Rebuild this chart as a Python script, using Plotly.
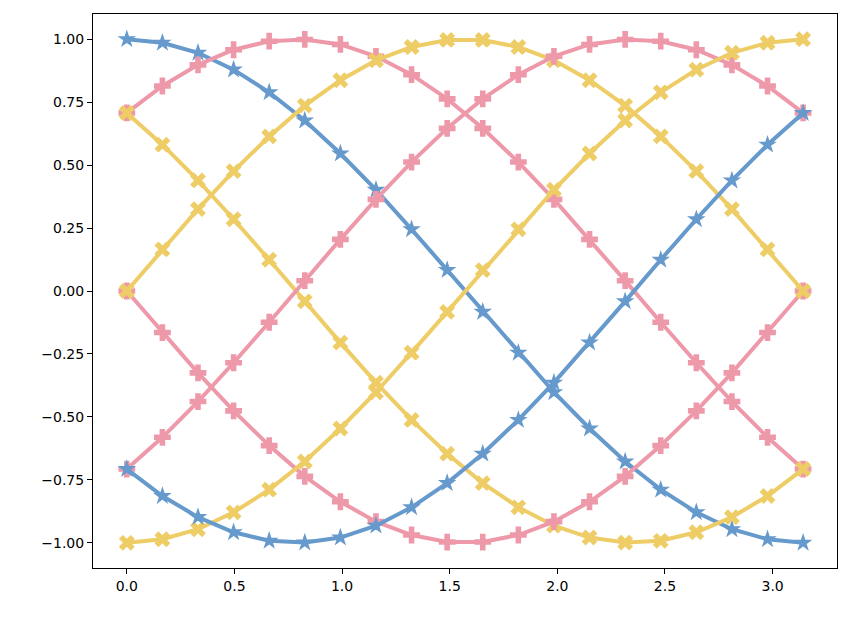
import numpy as np
import plotly.graph_objects as go

x = list(np.linspace(0, np.pi, 20))

blue_a = [1.0, 0.986, 0.946, 0.879, 0.789, 0.677, 0.546, 0.402, 0.245, 0.083,
          -0.083, -0.245, -0.402, -0.546, -0.677, -0.789, -0.879, -0.946, -0.986, -1.0]
blue_b = [-0.707, -0.814, -0.898, -0.958, -0.992, -0.999, -0.979, -0.932, -0.859, -0.763,
          -0.646, -0.512, -0.364, -0.205, -0.041, 0.124, 0.285, 0.439, 0.581, 0.707]
pink_a = [0.707, 0.814, 0.898, 0.958, 0.992, 0.999, 0.979, 0.932, 0.859, 0.763,
          0.646, 0.512, 0.364, 0.205, 0.041, -0.124, -0.285, -0.439, -0.581, -0.707]
pink_b = [0.0, -0.165, -0.325, -0.476, -0.614, -0.736, -0.837, -0.916, -0.969, -0.997,
          -0.997, -0.969, -0.916, -0.837, -0.736, -0.614, -0.476, -0.325, -0.165, 0.0]
pink_c = [-0.707, -0.581, -0.439, -0.285, -0.124, 0.041, 0.205, 0.364, 0.512, 0.646,
          0.763, 0.859, 0.932, 0.979, 0.999, 0.992, 0.958, 0.898, 0.814, 0.707]
yellow_a = [0.707, 0.581, 0.439, 0.285, 0.124, -0.041, -0.205, -0.364, -0.512, -0.646,
            -0.763, -0.859, -0.932, -0.979, -0.999, -0.992, -0.958, -0.898, -0.814, -0.707]
yellow_b = [0.0, 0.165, 0.325, 0.476, 0.614, 0.736, 0.837, 0.916, 0.969, 0.997,
            0.997, 0.969, 0.916, 0.837, 0.736, 0.614, 0.476, 0.325, 0.165, 0.0]
yellow_c = [-1.0, -0.986, -0.946, -0.879, -0.789, -0.677, -0.546, -0.402, -0.245, -0.083,
            0.083, 0.245, 0.402, 0.546, 0.677, 0.789, 0.879, 0.946, 0.986, 1.0]

series = [
    (blue_a, "#6699CC", "star"),
    (pink_a, "#EE99AA", "cross"),
    (yellow_a, "#EECC66", "x"),
    (pink_b, "#EE99AA", "cross"),
    (yellow_b, "#EECC66", "x"),
    (pink_c, "#EE99AA", "cross"),
    (yellow_c, "#EECC66", "x"),
    (blue_b, "#6699CC", "star"),
]

fig = go.Figure()
for y, col, sym in series:
    fig.add_trace(go.Scatter(x=x, y=y, mode="lines+markers",
                             line=dict(color=col, width=4),
                             marker=dict(symbol=sym, size=14, color=col)))

ax = dict(showgrid=False, zeroline=False, showline=True, linecolor="black",
          mirror=True, ticks="outside", ticklen=5, tickcolor="black")
fig.update_xaxes(range=[-0.157, 3.299], tickvals=[0, 0.5, 1, 1.5, 2, 2.5, 3],
                 ticktext=["0.0", "0.5", "1.0", "1.5", "2.0", "2.5", "3.0"], **ax)
fig.update_yaxes(range=[-1.1, 1.1], tickvals=[-1, -0.75, -0.5, -0.25, 0, 0.25, 0.5, 0.75, 1],
                 tickformat=".2f", **ax)
fig.update_layout(width=852, height=618, showlegend=False,
                  plot_bgcolor="white", paper_bgcolor="white",
                  font=dict(family="DejaVu Sans", size=14, color="black"),
                  margin=dict(l=85, r=23, t=6, b=58))
fig.write_html("out.html")
